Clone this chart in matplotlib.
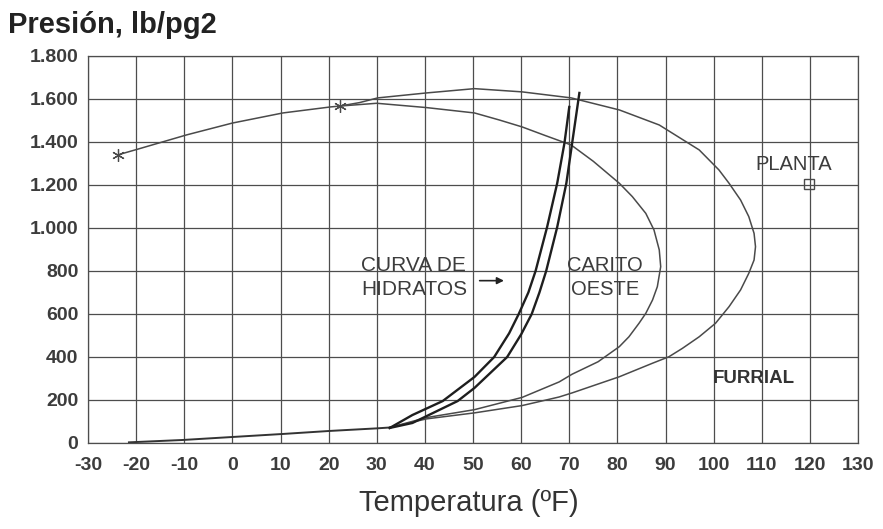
"""Phase envelopes with hydrate curve (Carito Oeste / Furrial)."""
import matplotlib

matplotlib.use("Agg")
import matplotlib.pyplot as plt
from matplotlib.ticker import FuncFormatter, MultipleLocator

plt.rcParams["font.family"] = ["Liberation Sans", "DejaVu Sans"]
plt.rcParams["axes.unicode_minus"] = False

# Carito Oeste envelope (starts at left star, goes round the nose, back to 32 F)
carito_t = [-23.8, -19.6, -9.5, 0.0, 10.5, 20.4, 22.3, 30.0, 40.3, 50.3, 55.5, 60.2,
            65.0, 70.4, 75.0, 80.4, 83.1, 85.9, 87.6, 88.7, 89.0, 88.3, 87.3, 85.9,
            84.5, 82.4, 80.4, 76.0, 70.6, 67.9, 60.2, 50.3, 40.3, 32.7]
carito_p = [1340, 1367, 1433, 1488, 1535, 1563, 1567, 1580, 1560, 1535, 1502, 1470,
            1430, 1386, 1310, 1208, 1146, 1068, 991, 898, 820, 727, 665, 603,
            557, 494, 448, 378, 320, 284, 212, 155, 118, 72]

# Furrial envelope (branches off at the star near 22 F)
furrial_t = [22.3, 26.4, 30.2, 40.3, 50.3, 60.2, 70.4, 80.4, 88.7, 97.0, 101.1, 103.2,
             105.6, 107.3, 108.4, 108.7, 108.4, 107.3, 105.6, 103.2, 100.4, 97.0, 93.5,
             90.7, 87.3, 80.4, 70.6, 67.9, 60.2, 50.3, 40.3, 32.7]
furrial_p = [1567, 1583, 1605, 1628, 1648, 1633, 1605, 1549, 1479, 1363, 1270, 1208,
             1130, 1053, 975, 913, 851, 789, 712, 634, 557, 494, 440,
             401, 371, 308, 233, 214, 174, 140, 112, 72]

# common low-pressure tail
tail_t = [-21.5, -10.3, 0.1, 10.5, 20.2, 30.0, 32.7]
tail_p = [3, 14, 28, 42, 56, 68, 72]

# hydrate curve, drawn as two close lines
hyd_left_t = [32.7, 37.4, 43.7, 50.3, 54.4, 57.5, 59.5, 61.5, 63.0, 65.4, 67.5, 69.0, 70.0]
hyd_left_p = [70, 130, 195, 307, 400, 510, 600, 700, 800, 1005, 1209, 1395, 1563]
hyd_right_t = [32.7, 37.4, 46.8, 50.3, 57.1, 60.0, 62.2, 63.8, 65.2, 67.5, 69.4, 70.6, 72.1]
hyd_right_p = [70, 93, 195, 256, 400, 505, 600, 700, 800, 1005, 1209, 1395, 1628]

star_t = [-23.8, 22.3]
star_p = [1340, 1567]
planta_t = [119.8]
planta_p = [1205]

LINE = "#4a4a4a"
TXT = "#3c3c3c"

fig = plt.figure(figsize=(8.83, 5.29), dpi=100)
ax = fig.add_axes([0.0997, 0.1626, 0.8720, 0.7316])

ax.plot(carito_t, carito_p, color=LINE, lw=1.1)
ax.plot(furrial_t, furrial_p, color=LINE, lw=1.1)
ax.plot(tail_t, tail_p, color="#333333", lw=1.4)
ax.plot(hyd_left_t, hyd_left_p, color="#1e1e1e", lw=1.7)
ax.plot(hyd_right_t, hyd_right_p, color="#1e1e1e", lw=1.7)
ax.plot(star_t, star_p, ls="none", marker=(6, 2, 0), ms=9, mew=0.9, color=LINE)
ax.plot(planta_t, planta_p, ls="none", marker="s", ms=7, mfc="none", mew=1.0, color=LINE)

ax.set_xlim(-30, 130)
ax.set_ylim(0, 1800)
ax.xaxis.set_major_locator(MultipleLocator(10))
ax.yaxis.set_major_locator(MultipleLocator(200))
ax.yaxis.set_major_formatter(FuncFormatter(lambda v, _: f"{v:,.0f}".replace(",", ".")))
ax.grid(True, color="#4d4d4d", lw=0.9)
ax.set_axisbelow(True)
for sp in ax.spines.values():
    sp.set_color("#4d4d4d")
    sp.set_linewidth(0.9)
ax.tick_params(length=0, labelsize=14, labelcolor=TXT)
ax.tick_params(axis="x", pad=10)
ax.tick_params(axis="y", pad=7)
for lbl in ax.get_xticklabels() + ax.get_yticklabels():
    lbl.set_fontweight("bold")

ax.text(26.8, 770, "CURVA DE\nHIDRATOS", fontsize=15, color=TXT, ha="left", va="center",
        linespacing=1.3)
ax.annotate("", xy=(57.0, 755), xytext=(50.8, 755),
            arrowprops=dict(arrowstyle="-|>", color="#222222", lw=1.2, mutation_scale=10))
ax.text(77.5, 770, "CARITO\nOESTE", fontsize=14.5, color=TXT, ha="center", va="center",
        linespacing=1.3)
ax.text(116.7, 1293, "PLANTA", fontsize=14.5, color=TXT, ha="center", va="center")
ax.text(108.4, 302, "FURRIAL", fontsize=13.5, color="#333333", ha="center", va="center",
        fontweight="bold")

fig.text(0.009, 0.938, "Presión, lb/pg2", fontsize=21, fontweight="bold", color="#222222",
         ha="left", va="baseline")
fig.text(0.531, 0.034, "Temperatura (ºF)", fontsize=21, color="#333333",
         ha="center", va="baseline")

fig.savefig("out.png", dpi=100)
